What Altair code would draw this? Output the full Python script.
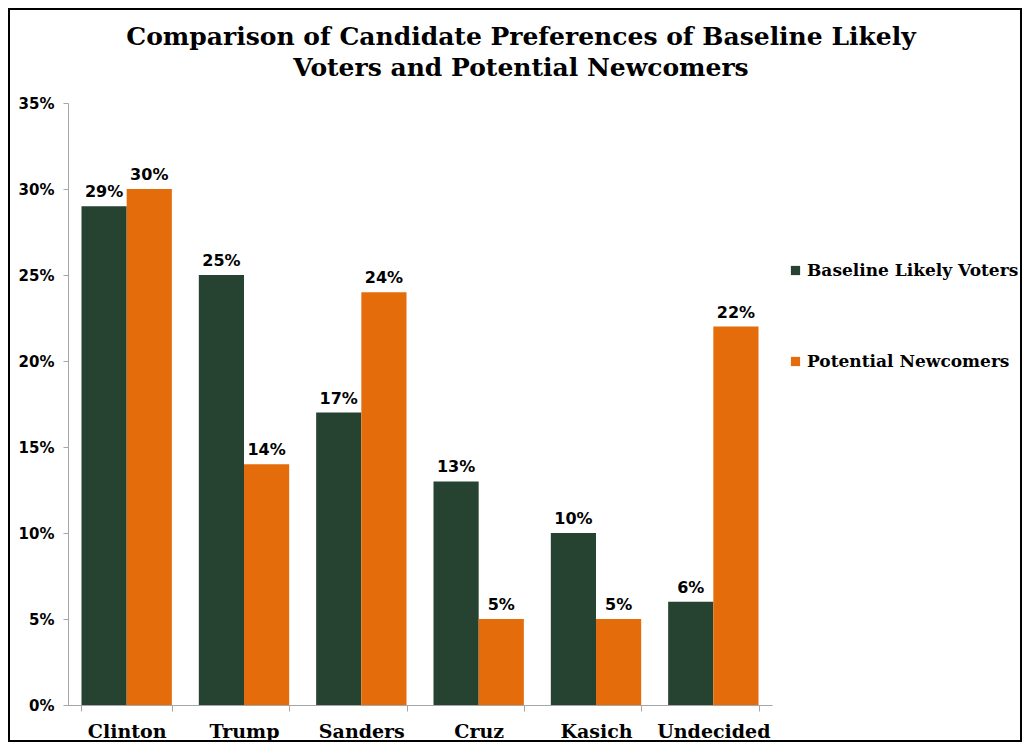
import altair as alt
import pandas as pd

candidates = ["Clinton", "Trump", "Sanders", "Cruz", "Kasich", "Undecided"]
series_names = ["Baseline Likely Voters", "Potential Newcomers"]
baseline = [0.29, 0.25, 0.17, 0.13, 0.10, 0.06]
newcomers = [0.30, 0.14, 0.24, 0.05, 0.05, 0.22]
colors = ["#264230", "#E46C0A"]
title_lines = ["Comparison of Candidate Preferences of Baseline Likely",
               "Voters and Potential Newcomers"]

rows = []
for c, b, n in zip(candidates, baseline, newcomers):
    rows.append({"Candidate": c, "Series": series_names[0], "Value": b})
    rows.append({"Candidate": c, "Series": series_names[1], "Value": n})
df = pd.DataFrame(rows)

SERIF = "DejaVu Serif"
SANS = "DejaVu Sans"
W, H = 704, 602

x = alt.X("Candidate:N", sort=candidates, title=None,
          scale=alt.Scale(paddingInner=0.23, paddingOuter=0.115),
          axis=alt.Axis(labelAngle=0, tickBand="extent", labelFont=SERIF,
                        labelFontWeight="bold", labelFontSize=19, labelColor="black",
                        labelPadding=11, tickSize=6, domainColor="#A6A6A6",
                        tickColor="#A6A6A6"))
y = alt.Y("Value:Q", title=None,
          scale=alt.Scale(domain=[0, 0.35], nice=False),
          axis=alt.Axis(values=[0, 0.05, 0.1, 0.15, 0.2, 0.25, 0.3, 0.35], format=".0%",
                        grid=False, labelFont=SANS, labelFontWeight="bold",
                        labelFontSize=15, labelColor="black", labelPadding=9,
                        tickSize=5, domainColor="#A6A6A6", tickColor="#A6A6A6"))
xo = alt.XOffset("Series:N", sort=series_names)

base = alt.Chart(df)
bars = base.mark_bar().encode(
    x=x, y=y, xOffset=xo,
    color=alt.Color("Series:N", sort=series_names,
                    scale=alt.Scale(domain=series_names, range=colors),
                    legend=alt.Legend(title=None, orient="none", legendX=719, legendY=159,
                                      symbolType="square", symbolSize=85,
                                      symbolStrokeWidth=0, labelFont=SERIF,
                                      labelFontWeight="bold", labelFontSize=17,
                                      labelColor="black", rowPadding=73,
                                      labelOffset=3, labelLimit=300)),
)
labels = base.mark_text(baseline="bottom", dy=-6, font=SANS, fontWeight="bold",
                        fontSize=16, color="black").encode(
    x=x, y=y, xOffset=xo, text=alt.Text("Value:Q", format=".0%"))

tdf = pd.DataFrame({"a": [0]})
title1 = alt.Chart(tdf).mark_text(font=SERIF, fontWeight="bold", fontSize=25,
                                  color="black", baseline="middle", align="center",
                                  text=title_lines[0]).encode(
    x=alt.value(453), y=alt.value(-66))
title2 = alt.Chart(tdf).mark_text(font=SERIF, fontWeight="bold", fontSize=25,
                                  color="black", baseline="middle", align="center",
                                  text=title_lines[1]).encode(
    x=alt.value(453), y=alt.value(-35))

border = alt.Chart(tdf).mark_rect(
    fill=None, stroke="black", strokeWidth=2).encode(
    x=alt.value(-59), x2=alt.value(953), y=alt.value(-94), y2=alt.value(638))

chart = alt.layer(bars, labels, title1, title2, border).properties(
    width=W, height=H,
    padding={"left": 60, "top": 95, "right": 250, "bottom": 37},
    autosize=alt.AutoSizeParams(type="none"),
).configure_view(stroke=None)

chart.save("out.html", embed_options={"renderer": "svg", "actions": False})
